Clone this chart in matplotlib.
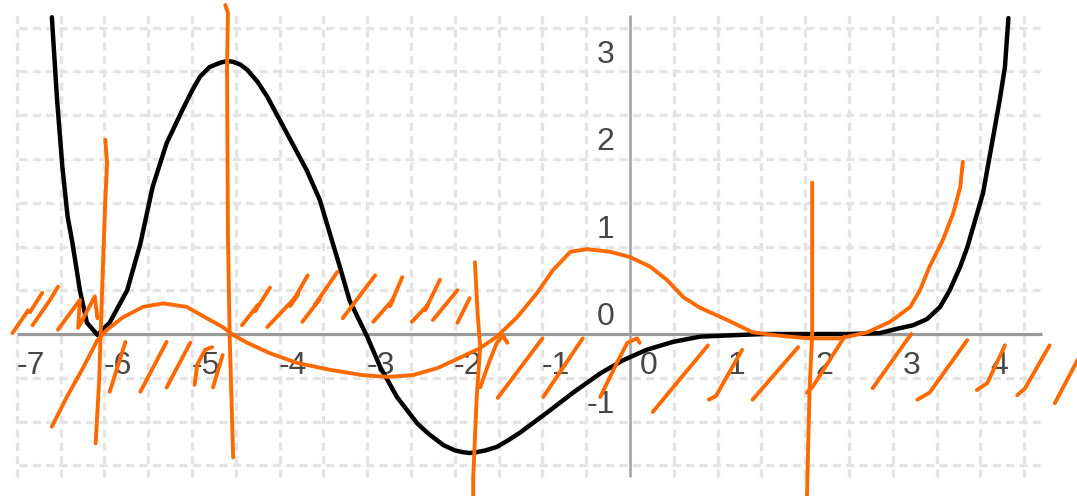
import numpy as np
import matplotlib
matplotlib.use('Agg')
import matplotlib.pyplot as plt

# ---- data (graph units) ----
black_x = [-6.60, -6.54, -6.48, -6.42, -6.37, -6.28, -6.20, -6.08, -5.94, -5.74,
           -5.59, -5.45, -5.29, -5.11, -5.00, -4.91, -4.80, -4.68, -4.60, -4.53,
           -4.45, -4.37, -4.25, -4.14, -3.92, -3.69, -3.54, -3.43, -3.31, -3.20,
           -3.00, -2.85, -2.66, -2.43, -2.30, -2.13, -2.00, -1.91, -1.83, -1.75,
           -1.65, -1.52, -1.40, -1.26, -0.95, -0.65, -0.34, -0.08, 0.19, 0.49,
           0.80, 1.03, 1.52, 2.09, 2.48, 2.85, 3.05, 3.23, 3.39, 3.54,
           3.65, 3.77, 3.85, 3.94, 4.03, 4.14, 4.22, 4.28, 4.32]
black_y = [3.62, 2.67, 1.91, 1.34, 1.07, 0.50, 0.13, -0.01, 0.13, 0.50,
           1.03, 1.68, 2.18, 2.56, 2.78, 2.94, 3.05, 3.10, 3.12, 3.11,
           3.08, 3.02, 2.88, 2.71, 2.30, 1.87, 1.53, 1.16, 0.76, 0.38,
           -0.03, -0.38, -0.72, -1.02, -1.14, -1.27, -1.33, -1.35, -1.36, -1.35,
           -1.33, -1.29, -1.22, -1.13, -0.90, -0.67, -0.45, -0.30, -0.18, -0.09,
           -0.03, -0.02, 0.00, 0.00, 0.00, 0.01, 0.06, 0.10, 0.17, 0.31,
           0.50, 0.77, 0.99, 1.30, 1.61, 2.22, 2.67, 3.05, 3.61]

# freehand orange curve
orange_x = [-6.60, -6.43, -6.24, -6.08, -5.97, -5.79, -5.56, -5.33, -5.06, -4.83,
            -4.65, -4.53, -4.37, -4.11, -3.80, -3.42, -3.05, -2.77, -2.48, -2.20,
            -1.94, -1.71, -1.52, -1.29, -1.06, -0.88, -0.68, -0.49, -0.23, 0.00,
            0.23, 0.42, 0.61, 0.80, 1.11, 1.40, 1.71, 2.05, 2.40, 2.71,
            2.97, 3.20, 3.31, 3.42, 3.57, 3.69, 3.77, 3.80]
orange_y = [-1.06, -0.72, -0.38, -0.07, 0.05, 0.19, 0.31, 0.35, 0.31, 0.18,
            0.08, -0.01, -0.10, -0.22, -0.33, -0.41, -0.47, -0.49, -0.47, -0.39,
            -0.27, -0.16, -0.03, 0.19, 0.47, 0.73, 0.94, 0.97, 0.94, 0.88,
            0.77, 0.62, 0.42, 0.30, 0.16, 0.02, -0.02, -0.05, -0.05, 0.02,
            0.14, 0.31, 0.50, 0.77, 1.07, 1.38, 1.68, 1.97]

# freehand vertical marks
vline_1 = ([-5.99, -5.97, -5.99, -6.03, -6.06, -6.10], [2.22, 1.95, 1.53, 0.39, -0.53, -1.25])
vline_2 = ([-4.62, -4.59, -4.60, -4.59, -4.57, -4.53], [3.76, 3.67, 3.05, 1.15, -0.03, -1.41])
vline_3 = ([-1.77, -1.74, -1.71, -1.75, -1.79, -1.79], [0.82, 0.24, -0.15, -0.72, -1.65, -1.86])
vline_4 = ([2.08, 2.08, 2.05, 2.02], [1.73, 0.01, -0.64, -1.86])

# hatch strokes (each a short freehand polyline)
hatch_strokes = [
    [(-7.05, 0.01), (-6.87, 0.27), (-6.85, 0.25), (-6.71, 0.47)],
    [(-6.82, 0.10), (-6.62, 0.39), (-6.53, 0.54)],
    [(-6.53, 0.05), (-6.28, 0.39), (-6.30, 0.07), (-6.11, 0.43), (-6.08, 0.18)],
    [(-5.94, -0.66), (-5.76, -0.09)],
    [(-5.59, -0.66), (-5.29, -0.09)],
    [(-5.29, -0.61), (-5.02, -0.10)],
    [(-4.97, -0.58), (-4.94, -0.35), (-4.85, -0.18), (-4.77, -0.15)],
    [(-4.76, -0.61), (-4.65, -0.24)],
    [(-4.43, 0.10), (-4.25, 0.33), (-4.28, 0.26), (-4.11, 0.53)],
    [(-4.14, 0.08), (-3.79, 0.45), (-3.88, 0.32), (-3.68, 0.67)],
    [(-3.74, 0.14), (-3.54, 0.40), (-3.60, 0.33), (-3.34, 0.71)],
    [(-3.28, 0.18), (-2.91, 0.67)],
    [(-2.93, 0.14), (-2.71, 0.39), (-2.74, 0.32), (-2.60, 0.65)],
    [(-2.49, 0.14), (-2.31, 0.33), (-2.34, 0.27), (-2.17, 0.62)],
    [(-2.25, 0.16), (-1.97, 0.50)],
    [(-1.97, 0.13), (-1.83, 0.41)],
    [(-1.71, -0.61), (-1.60, -0.30), (-1.52, -0.10), (-1.45, -0.02), (-1.40, -0.10)],
    [(-1.51, -0.73), (-1.00, -0.05)],
    [(-0.99, -0.72), (-0.54, -0.05)],
    [(-0.34, -0.72), (-0.15, -0.33), (-0.03, -0.10), (0.08, -0.05), (0.11, -0.10)],
    [(0.26, -0.89), (0.89, -0.13)],
    [(0.90, -0.75), (0.98, -0.71), (1.28, -0.18)],
    [(1.40, -0.75), (1.92, -0.15)],
    [(2.02, -0.67), (2.08, -0.61), (2.45, -0.03)],
    [(2.77, -0.62), (3.21, 0.00)],
    [(3.28, -0.75), (3.42, -0.67), (3.85, -0.07)],
    [(3.96, -0.64), (4.08, -0.56), (4.28, -0.13)],
    [(4.42, -0.70), (4.51, -0.62), (4.79, -0.13)],
    [(4.85, -0.79), (5.14, -0.24)],
]

x_labels = [-7, -6, -5, -4, -3, -2, -1, 0, 1, 2, 3, 4]
y_labels = [-1, 0, 1, 2, 3]

ORANGE = '#ff6a00'
LABEL_COLOR = '#474747'

fig = plt.figure(figsize=(10.77, 4.96), dpi=100)
ax = fig.add_axes([0, 0, 1, 1])
ax.set_xlim(-7.192, 5.103)
ax.set_ylim(-1.851, 3.817)
ax.axis('off')

# dashed grid every half unit, limited to the graphics view box
grid_kw = dict(colors='#e4e4e4', linewidth=2.4, linestyles=(0, (2.4, 1.6)), zorder=0)
for gx in np.arange(-7.0, 4.51, 0.5):
    if abs(gx) > 1e-9:
        ax.vlines(gx, -1.63, 3.65, **grid_kw)
for gy in np.arange(-1.5, 3.51, 0.5):
    if abs(gy) > 1e-9:
        ax.hlines(gy, -6.97, 4.68, **grid_kw)

# axes
ax.hlines(0, -7.0, 4.70, colors='#9a9a9a', linewidth=2.3, zorder=1)
ax.vlines(0, -1.63, 3.65, colors='#a0a0a0', linewidth=1.8, zorder=1)

# tick labels (screenshot places them up/right of the tick)
for v in x_labels:
    ax.annotate(str(v), (v, 0), xytext=(20, -23), textcoords='offset points',
                ha='right', va='center', fontsize=23, color=LABEL_COLOR,
                family='Liberation Sans', zorder=2)
for v in y_labels:
    ax.annotate(str(v), (0, v), xytext=(-11, 12), textcoords='offset points',
                ha='right', va='center', fontsize=23, color=LABEL_COLOR,
                family='Liberation Sans', zorder=2)

# function graph
ax.plot(black_x, black_y, color='black', linewidth=3.2, solid_capstyle='round',
        solid_joinstyle='round', zorder=3)

# freehand annotations
pen = dict(color=ORANGE, linewidth=2.8, solid_capstyle='round', solid_joinstyle='round', zorder=4)
ax.plot(orange_x, orange_y, **pen)
for vx, vy in [vline_1, vline_2, vline_3, vline_4]:
    ax.plot(vx, vy, **pen)
for stroke in hatch_strokes:
    sx, sy = zip(*stroke)
    ax.plot(sx, sy, **pen)

fig.savefig('out.png', dpi=100)
